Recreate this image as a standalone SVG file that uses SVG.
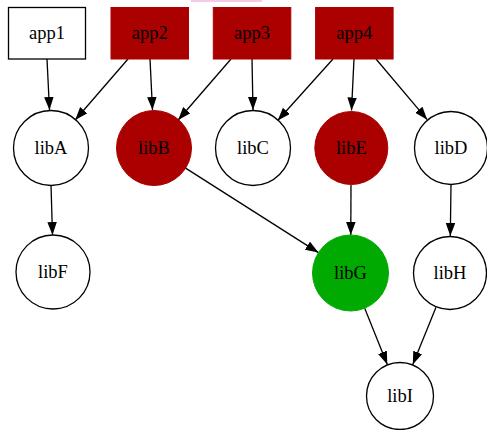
<svg xmlns="http://www.w3.org/2000/svg" width="487" height="430" viewBox="0 0 487 430">
<style>
.box{stroke:#000;stroke-width:1.3}
.white{fill:#fff}
.red{fill:#aa0000;stroke:#aa0000}
.green{fill:#00aa00;stroke:#00aa00}
.circ{stroke:#000;stroke-width:1.3;fill:#fff}
text{font-family:"Liberation Serif","Times New Roman",serif;font-size:18.5px;text-anchor:middle;dominant-baseline:central;fill:#000}
.edge{stroke:#000;stroke-width:1.3;fill:none;marker-end:url(#arr)}
</style>
<defs>
<marker id="arr" markerUnits="userSpaceOnUse" markerWidth="14" markerHeight="10" refX="13" refY="4.75" orient="auto">
<path d="M0,0 L13,4.75 L0,9.5 z" fill="#000"/>
</marker>
</defs>
<rect x="191" y="0" width="71" height="2" fill="#f9c8e8"/>
<g id="edges">
<line class="edge" x1="47" y1="59" x2="49.5" y2="110"/>
<line class="edge" x1="128" y1="59" x2="75.2" y2="120"/>
<line class="edge" x1="150" y1="59" x2="152.5" y2="110"/>
<line class="edge" x1="231" y1="59" x2="178.2" y2="120"/>
<line class="edge" x1="252" y1="59" x2="253" y2="110"/>
<line class="edge" x1="333" y1="59" x2="277.7" y2="120.5"/>
<line class="edge" x1="354" y1="59" x2="351.5" y2="110.5"/>
<line class="edge" x1="376" y1="59" x2="427.2" y2="119.7"/>
<line class="edge" x1="51" y1="185" x2="52.5" y2="235"/>
<line class="edge" x1="185.2" y1="167.9" x2="318.4" y2="252.6"/>
<line class="edge" x1="351" y1="185" x2="350.8" y2="235"/>
<line class="edge" x1="451" y1="185" x2="450.3" y2="236"/>
<line class="edge" x1="364.7" y1="308.3" x2="387.3" y2="364.4"/>
<line class="edge" x1="436" y1="307.3" x2="412.8" y2="364.5"/>
</g>
<g id="app1"><rect class="box white" x="8.5" y="7.5" width="77" height="51.5"/><text x="47" y="33">app1</text></g>
<g id="app2"><rect class="red" x="111" y="7.5" width="77.5" height="51.5"/><text x="149.7" y="33">app2</text></g>
<g id="app3"><rect class="red" x="213.3" y="7.5" width="77.5" height="51.5"/><text x="252" y="33">app3</text></g>
<g id="app4"><rect class="red" x="315.6" y="7.5" width="77.5" height="51.5"/><text x="354.3" y="33">app4</text></g>
<g id="libA"><circle class="circ" cx="51" cy="148" r="37.5"/><text x="51" y="148">libA</text></g>
<g id="libB"><circle class="red" cx="154" cy="148" r="37.5"/><text x="154" y="148">libB</text></g>
<g id="libC"><circle class="circ" cx="253" cy="148" r="37.5"/><text x="253" y="148">libC</text></g>
<g id="libE"><circle class="red" cx="351.3" cy="148" r="36.5"/><text x="351.3" y="148">libE</text></g>
<g id="libD"><circle class="circ" cx="451" cy="148" r="36.5"/><text x="451" y="148">libD</text></g>
<g id="libF"><circle class="circ" cx="53" cy="272" r="37"/><text x="53" y="272">libF</text></g>
<g id="libG"><circle class="green" cx="350.5" cy="273" r="38"/><text x="350.5" y="273">libG</text></g>
<g id="libH"><circle class="circ" cx="450" cy="273" r="36.5"/><text x="450" y="273">libH</text></g>
<g id="libI"><circle class="circ" cx="400" cy="396" r="33.5"/><text x="400" y="396">libI</text></g>
</svg>
